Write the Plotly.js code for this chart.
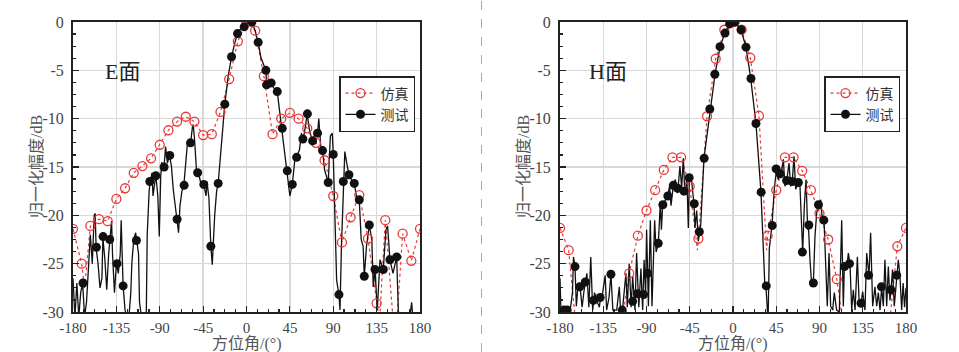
<!DOCTYPE html>
<html>
<head>
<meta charset="utf-8">
<script src="https://cdn.plot.ly/plotly-3.0.1.min.js"></script>
<style>html,body{margin:0;padding:0;background:#fff;}#chart{width:959px;height:352px;}</style>
</head>
<body>
<div id="chart"></div>
<script>
// ---------- E plane ----------
const eSimMarkAng = [-180,-171,-162,-153,-144,-135,-126,-117,-108,-99,-90,-81,-72,-63,-54,-45,-36,-27,-18,-9,0,9,18,27,36,45,54,63,72,81,90,99,108,117,126,135,144,153,162,171,180];
const eSimMarkVal = [-21.4,-25.0,-21.1,-20.4,-20.6,-18.3,-17.2,-15.6,-14.9,-14.1,-12.7,-11.2,-10.3,-9.8,-10.3,-11.7,-11.6,-9.3,-5.9,-2.0,0,-0.9,-5.6,-11.6,-10.0,-9.4,-10.0,-11.0,-12.5,-14.3,-18.0,-22.8,-20.2,-17.9,-22.4,-29.1,-20.5,-32.0,-21.9,-24.7,-21.4];
const eSimLineAng = [-180,-171,-168,-162,-153,-144,-135,-126,-117,-108,-99,-90,-81,-72,-63,-54,-45,-36,-27,-18,-9,0,9,18,27,36,45,54,63,72,81,90,99,108,117,126,135,138,144,150,153,156,162,171,180];
const eSimLineVal = [-21.4,-25.0,-27.5,-21.1,-20.4,-20.6,-18.3,-17.2,-15.6,-14.9,-14.1,-12.7,-11.2,-10.3,-9.8,-10.3,-11.7,-11.6,-9.3,-5.9,-2.0,0,-0.9,-5.6,-11.6,-10.0,-9.4,-10.0,-11.0,-12.5,-14.3,-18.0,-22.8,-20.2,-17.9,-22.4,-29.1,-31.0,-20.5,-28.0,-32.0,-31.0,-21.9,-24.7,-21.4];

const eMeasAng = [-180,-178,-176,-174,-172,-170,-168,-166,-164,-162,-160,-158,-157,-156,-154,-152,-150,-149,-147,-145,-143,-142,-140,-139,-137,-135,-133,-131,-130,-129,-128,-126,-124,-122,-120,-119,-117,-115,-114,-112,-111,-109,-107,-105,-104,-103,-101,-100,-98,-97,-95,-94,-92,-90.5,-89,-88,-86,-85.5,-84,-82,-80,-78,-76,-74,-72,-70.5,-69,-67,-65,-63,-61,-59,-58,-56,-55.3,-54,-52,-50,-48,-46,-44.3,-42,-41,-39,-37,-35.5,-33,-31,-29.4,-26,-22.5,-19,-15.5,-12,-9.3,-7,-2.4,1,5.6,9,12.1,15,18,20.1,20.8,23,25.6,28,31.9,34,37.1,40,42.3,45,47.5,50,52,55,57,58.2,60,63,65,66,68.6,71,73.7,75,77,78.9,81,84.8,87,89,90,92,93.5,95.9,97,98.5,100.4,102,104,106.3,109,111.8,114,117,119,121,122.2,124.5,127.4,130,131.5,133.3,135.7,138.5,141.9,144.7,146.4,148.8,152,155.8,157.5,159,169,171.3,173,180];
const eMeasVal = [-26.5,-30.5,-27.0,-30.5,-28.0,-27.0,-30.5,-29.0,-25.5,-22.0,-25.0,-20.0,-19.8,-23.4,-25.0,-27.5,-26.5,-22.3,-24.5,-27.7,-24.0,-22.5,-20.6,-24.0,-28.0,-25.0,-26.0,-24.0,-20.5,-24.0,-27.3,-29.8,-30.5,-30.5,-28.0,-25.0,-22.5,-21.8,-22.6,-24.0,-29.0,-30.5,-31,-31,-30.5,-22.0,-17.5,-16.5,-15.6,-18.0,-16.5,-15.9,-18.0,-22.2,-16.0,-14.5,-15.2,-15.0,-12.9,-14.6,-13.8,-14.8,-17.3,-19.0,-20.5,-21.8,-19.0,-17.5,-16.9,-14.0,-12.2,-12.8,-12.5,-10.8,-10.6,-12.0,-15.2,-15.6,-16.5,-17.2,-16.8,-18.0,-16.5,-18.2,-23.2,-25.1,-20.0,-17.5,-16.7,-12.3,-8.5,-5.6,-3.6,-2.1,-1.2,-0.8,-0.5,-0.1,0,-0.9,-2.1,-3.7,-4.6,-5.0,-6.5,-6.0,-6.3,-6.8,-7.2,-8.9,-11.0,-13.7,-15.4,-18.0,-16.8,-14.4,-14.0,-13.2,-11.5,-12.1,-11.5,-9.5,-11.0,-11.5,-12.3,-11.5,-11.5,-10.0,-12.8,-13.3,-15.3,-16.6,-11.8,-11.5,-13.7,-19.8,-26.7,-28.2,-29.8,-23.2,-16.5,-13.4,-14.6,-15.8,-16.3,-16.7,-18.0,-18.4,-22.5,-23.2,-26.3,-23.2,-21.0,-22.5,-27.4,-25.6,-29.8,-24.6,-25.6,-21.5,-21.1,-24.6,-26.0,-24.3,-29.8,-31,-31,-29,-31,-31];
const eMeasMarkAng = [-169.6,-155.7,-148.8,-141.9,-134.3,-128,-114.2,-100.3,-94.1,-85.5,-79.6,-72.0,-64.7,-58.1,-50.7,-44.3,-37,-29.4,-22.5,-15.5,-9.3,-2.4,5.6,12.1,20.1,20.8,25.6,31.9,37.1,42.3,47.5,52,58.5,63.2,68.6,73.7,78.9,84.8,90,95.9,100.4,106.3,111.8,117,122.2,127.4,133.3,141.9,148.8,155.8];
const eMeasMarkVal = [-27.0,-23.3,-22.2,-22.5,-25.0,-27.3,-22.6,-16.5,-15.9,-15.0,-13.8,-20.4,-16.9,-12.5,-15.6,-16.8,-23.2,-16.7,-8.5,-3.6,-1.2,-0.5,0,-2.1,-5.0,-6.5,-6.3,-7.2,-11.0,-15.4,-16.8,-14.0,-12.1,-9.5,-12.3,-11.5,-13.3,-16.6,-13.7,-28.2,-16.5,-15.8,-16.7,-18.4,-26.3,-21.0,-25.6,-25.6,-24.6,-24.3];

// ---------- H plane ----------
const hSimMarkAng = [-180,-171,-162,-153,-144,-135,-126,-117,-108,-99,-90,-81,-72,-63,-54,-45,-36,-27,-18,-9,0,9,18,27,36,45,54,63,72,81,90,99,108,117,126,135,144,153,162,171,180];
const hSimMarkVal = [-21.3,-23.6,-33,-36,-38,-40,-36,-32,-26.0,-22.1,-19.5,-17.4,-15.3,-14.0,-14.0,-17.0,-22.4,-9.75,-3.8,-0.8,0,-0.8,-3.7,-9.7,-22.1,-17.4,-14.0,-14.0,-15.4,-17.4,-19.8,-22.5,-26.6,-33,-38,-40,-38,-35,-32,-23.2,-21.3];
const hSimLineAng = [-180,-171,-162,-153,-144,-135,-126,-117,-108,-99,-90,-81,-72,-63,-54,-45,-37,-36,-27,-18,-9,0,9,18,27,35,36,45,54,63,72,81,90,99,108,117,126,135,144,153,162,171,180];
const hSimLineVal = [-21.3,-23.6,-33,-36,-38,-40,-36,-32,-26.0,-22.1,-19.5,-17.4,-15.3,-14.0,-14.0,-17.0,-23.6,-22.4,-9.75,-3.8,-0.8,0,-0.8,-3.7,-9.7,-23.6,-22.1,-17.4,-14.0,-14.0,-15.4,-17.4,-19.8,-22.5,-26.6,-33,-38,-40,-38,-35,-32,-23.2,-21.3];

const hMeasAng = [-180,-179,-177,-175,-173,-171,-169,-167,-166,-164.4,-163,-161,-159,-157,-155,-153.7,-152,-150,-148,-146,-144,-141.5,-139,-138,-135.6,-133,-131.5,-129,-127,-125,-121,-118.3,-117,-115,-113,-111.4,-110,-108,-106,-104.4,-102,-100.3,-98,-95.8,-94,-92.5,-91,-89.9,-88,-86,-84.3,-83,-81.5,-80,-77.7,-75.6,-74.5,-73.2,-70.5,-68,-66,-64.5,-62.1,-60,-57.6,-55.2,-53.4,-51.7,-50,-48,-46.5,-45.4,-43,-40.6,-39.5,-37.8,-36.1,-35,-33.6,-30.2,-23.9,-18.7,-13.5,-8.3,-3.8,2.1,8.3,13.5,18.4,23.9,29.1,31.6,33,34.3,35.7,36.5,37.8,40.6,43,45.4,47,48.9,50.6,52.4,54,55.8,58.3,60,61.7,63.5,65.2,68,69.7,71.4,72.5,74.2,76,77.7,78.4,80.1,82,83.6,85.3,87,89.1,91.2,93.3,94.7,96.4,98.1,99.9,101.6,103.7,105.4,107.8,110.6,113.1,114.8,115.8,118.3,120,121.7,123.5,125.2,127,129.4,131.4,133.2,134.9,137.3,139.1,141.5,143.2,145.3,147.7,149.5,151.2,153,154.7,156.4,158.1,159.9,161.6,163.3,164.4,166,167.8,170.3,172,173.7,175.5,177,178.5,180];
const hMeasVal = [-26.5,-30,-29.8,-30,-29.5,-30,-29.5,-28,-24.3,-25.3,-29.4,-27.0,-27.5,-29.5,-27.8,-26.9,-26.0,-29.5,-24.3,-29.8,-28.0,-28.9,-29.5,-28.6,-28.0,-26.2,-29.8,-28.5,-26.1,-29.8,-29.8,-27.4,-29.8,-29.8,-27.4,-26.0,-29.5,-25.0,-29.5,-26.3,-29.8,-23.9,-29.5,-25.5,-29.8,-24.6,-28.0,-21.5,-29.4,-20.5,-29.4,-25.0,-20.5,-23.8,-22.9,-18.7,-21.5,-18.9,-18.4,-18.0,-17.0,-19.0,-16.9,-16.3,-17.7,-14.9,-17.2,-14.1,-17.9,-16.0,-21.3,-16.1,-16.5,-18.8,-21.3,-19.5,-22.7,-21.7,-21.0,-14.1,-9.0,-5.4,-2.6,-1.1,-0.24,0,-0.8,-2.6,-5.8,-10.5,-17.6,-23.4,-26.9,-27.4,-29.6,-31,-23.4,-21.0,-17.2,-15.2,-16.3,-15.6,-15.4,-14.2,-17.0,-16.5,-14.6,-17.0,-16.4,-13.9,-17.3,-16.6,-17.0,-20.5,-23.8,-19.0,-16.3,-21.5,-20.9,-24.6,-27.4,-27.0,-22.2,-19.8,-18.9,-18.4,-20.8,-20.5,-24.6,-29.4,-23.9,-29.4,-29.8,-28.0,-29.8,-30,-20.5,-29.4,-25.3,-25.6,-23.9,-25.0,-29.8,-27.7,-29.8,-24.3,-29.4,-29.1,-27.9,-29.8,-23.9,-26.2,-21.8,-29.4,-27.4,-29.4,-28.0,-29.8,-27.4,-29.4,-24.6,-29.4,-25.3,-28.8,-27.7,-25.6,-29.4,-26.2,-24.6,-26.3,-29.8,-27.0,-29.5,-27.5];
const hMeasMarkAng = [-176,-172.5,-164.4,-159.5,-153.7,-145.3,-138.2,-127,-115.2,-104.4,-99.5,-93,-88.8,-77.8,-73,-67.8,-62.1,-57.6,-51,-45.6,-40.3,-35,-30,-24.1,-18.9,-13.5,-8.3,-3.5,2.2,8.5,13.5,18.7,23.9,29.3,34.6,40.8,44.9,49,55.8,61.8,68,72.2,78.9,83.6,88.9,94.5,116,121.2,133.2,141,154.4,164.2,170.3];
const hMeasMarkVal = [-29.8,-29.8,-25.3,-27.4,-26.9,-28.8,-28.5,-26.1,-29.8,-28.9,-28.1,-28.2,-26.0,-22.9,-18.9,-18.0,-16.9,-17.2,-17.5,-16.1,-18.8,-21.7,-14.1,-9.0,-5.4,-2.55,-1.15,-0.2,0,-0.8,-2.6,-5.85,-10.5,-17.6,-27.3,-21.05,-15.2,-15.7,-16.4,-16.5,-16.6,-23.8,-21.0,-27.0,-18.9,-20.5,-25.3,-25.0,-29.1,-26.2,-27.4,-27.7,-26.2];

const xTicks = [-180,-135,-90,-45,0,45,90,135,180];
const yTicks = [0,-5,-10,-15,-20,-25,-30];
const legendNames = ['仿真','测试'];
const panelNames = ['E面','H面'];
const xTitle = '方位角/(°)';
const yTitle = '归一化幅度/dB';

const RED = '#e8383a';
const BLK = '#111111';
const W = 959, H = 352;
const serif = 'Liberation Serif, DejaVu Serif, serif';
const cjk = 'Liberation Serif, Noto Sans CJK SC, serif';

function panelTraces(xa, ya, lg, simLA, simLV, simMA, simMV, mLA, mLV, mMA, mMV) {
  return [
    {x: simLA, y: simLV, xaxis: xa, yaxis: ya, mode: 'lines', showlegend: false,
     line: {color: RED, width: 1.2, dash: '3px,3px'}, hoverinfo: 'skip'},
    {x: mLA, y: mLV, xaxis: xa, yaxis: ya, mode: 'lines', showlegend: false,
     line: {color: BLK, width: 1.3}, hoverinfo: 'skip'},
    {x: simMA, y: simMV, xaxis: xa, yaxis: ya, mode: 'markers', showlegend: false,
     marker: {symbol: 'circle-open', size: 9, color: RED, line: {width: 1.3, color: RED}}},
    {x: mMA, y: mMV, xaxis: xa, yaxis: ya, mode: 'markers', showlegend: false,
     marker: {symbol: 'circle', size: 9, color: BLK}},
    {x: [null], y: [null], xaxis: xa, yaxis: ya, mode: 'lines+markers', name: legendNames[0], legend: lg,
     line: {color: RED, width: 1.2, dash: '3px,3px'},
     marker: {symbol: 'circle-open', size: 9, color: RED, line: {width: 1.3, color: RED}}},
    {x: [null], y: [null], xaxis: xa, yaxis: ya, mode: 'lines+markers', name: legendNames[1], legend: lg,
     line: {color: BLK, width: 1.3},
     marker: {symbol: 'circle', size: 9, color: BLK}}
  ];
}

const data = [].concat(
  panelTraces('x', 'y', 'legend', eSimLineAng, eSimLineVal, eSimMarkAng, eSimMarkVal, eMeasAng, eMeasVal, eMeasMarkAng, eMeasMarkVal),
  panelTraces('x2', 'y2', 'legend2', hSimLineAng, hSimLineVal, hSimMarkAng, hSimMarkVal, hMeasAng, hMeasVal, hMeasMarkAng, hMeasMarkVal)
);

function xAxis(domain, anchor) {
  return {
    domain: domain, anchor: anchor, range: [-180, 180], tickmode: 'array', tickvals: xTicks,
    ticktext: xTicks.map(String), ticks: 'inside', ticklen: 6, tickwidth: 1.2, tickcolor: '#222',
    showline: true, linecolor: '#222', linewidth: 2, mirror: true, zeroline: false,
    showgrid: true, gridcolor: '#d9d9d9', gridwidth: 1.3,
    minor: {dtick: 11.25, tick0: -180, ticks: 'inside', ticklen: 3, tickcolor: '#222', showgrid: false},
    tickfont: {family: serif, size: 15, color: '#444'}, ticklabelstandoff: 1
  };
}
function yAxis(anchor) {
  return {
    domain: [1 - 312 / H, 1 - 22 / H], anchor: anchor, range: [-30, 0], tickmode: 'array', tickvals: yTicks,
    ticktext: yTicks.map(String), ticks: 'inside', ticklen: 6, tickwidth: 1.2, tickcolor: '#222',
    showline: true, linecolor: '#222', linewidth: 2, mirror: true, zeroline: false,
    showgrid: true, gridcolor: '#d9d9d9', gridwidth: 1.3,
    minor: {dtick: 1.25, tick0: 0, ticks: 'inside', ticklen: 3, tickcolor: '#222', showgrid: false},
    tickfont: {family: serif, size: 16, color: '#444'}, ticklabelstandoff: 4
  };
}
function legendBox(xpx) {
  return {x: xpx / W, y: 1 - 76 / H, xanchor: 'left', yanchor: 'top', bgcolor: '#fff',
    bordercolor: '#222', borderwidth: 1.5, font: {family: cjk, size: 14, color: '#333'},
    tracegroupgap: 0, itemwidth: 30};
}
function titleAnn(xpx, ypx, text, angle) {
  return {xref: 'paper', yref: 'paper', x: xpx / W, y: 1 - ypx / H, xanchor: 'center', yanchor: 'middle',
    text: text, textangle: angle, showarrow: false, font: {family: cjk, size: 16, color: '#555'}};
}

const layout = {
  width: W, height: H, paper_bgcolor: '#fff', plot_bgcolor: '#fff',
  margin: {l: 0, r: 0, t: 0, b: 0},
  xaxis: xAxis([73 / W, 420 / W], 'y'),
  yaxis: yAxis('x'),
  xaxis2: xAxis([560 / W, 906 / W], 'y2'),
  yaxis2: yAxis('x2'),
  legend: legendBox(339),
  legend2: legendBox(824),
  annotations: [
    {xref: 'x', yref: 'y', x: -129, y: -5.1, text: panelNames[0], showarrow: false,
     font: {family: cjk, size: 22, color: '#222'}},
    {xref: 'x2', yref: 'y2', x: -130, y: -5.1, text: panelNames[1], showarrow: false,
     font: {family: cjk, size: 22, color: '#222'}},
    titleAnn(247, 344, xTitle, 0),
    titleAnn(733, 344, xTitle, 0),
    titleAnn(37, 167, yTitle, -90),
    titleAnn(524, 167, yTitle, -90)
  ],
  shapes: [
    {type: 'line', xref: 'paper', yref: 'paper', x0: 481.5 / W, x1: 481.5 / W, y0: 0, y1: 1,
     line: {color: '#aaaaaa', width: 1, dash: 'dash'}}
  ]
};

Plotly.newPlot('chart', data, layout, {displayModeBar: false, staticPlot: true});
</script>
</body>
</html>
